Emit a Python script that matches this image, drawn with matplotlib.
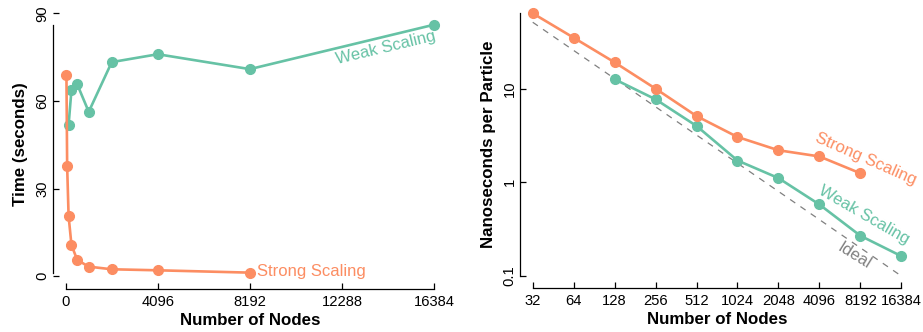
import matplotlib
matplotlib.use("Agg")
import matplotlib.pyplot as plt
import numpy as np

plt.rcParams['font.family'] = ['Liberation Sans', 'DejaVu Sans']

# ---- data ----
weak_nodes = [128, 256, 512, 1024, 2048, 4096, 8192, 16384]
weak_time = [51.8, 63.8, 65.7, 56.3, 73.3, 76.0, 70.9, 86.1]
weak_nspp = [12.6, 7.7, 4.0, 1.71, 1.11, 0.58, 0.269, 0.163]

strong_nodes = [32, 64, 128, 256, 512, 1024, 2048, 4096, 8192]
strong_time = [69.0, 37.7, 20.6, 10.7, 5.6, 3.3, 2.4, 2.05, 1.25]
strong_nspp = [63.8, 35.0, 19.1, 10.0, 5.1, 3.05, 2.2, 1.89, 1.25]

ideal_nodes = [32, 64, 128, 256, 512, 1024, 2048, 4096, 8192, 16384]
ideal_nspp = [51.2, 25.6, 12.8, 6.4, 3.2, 1.6, 0.8, 0.4, 0.2, 0.1]

left_xticks = [0, 4096, 8192, 12288, 16384]
left_yticks = [0, 30, 60, 90]
right_xticks = [32, 64, 128, 256, 512, 1024, 2048, 4096, 8192, 16384]
right_yticks = [0.1, 1, 10]
right_yticklabels = ['0.1', '1', '10']

GREEN = '#66c2a5'
ORANGE = '#fc8d62'
GREY = '#808080'

W, H = 923, 332
fig = plt.figure(figsize=(W / 100, H / 100), dpi=100)

def px_axes(l, t, r, b):
    return fig.add_axes([l / W, 1 - b / H, (r - l) / W, (b - t) / H])

line_kw = dict(lw=1.9, marker='o', ms=7, clip_on=False)

def style(ax):
    for s in ['top', 'right']:
        ax.spines[s].set_visible(False)
    for s in ['left', 'bottom']:
        ax.spines[s].set_linewidth(0.9)
    ax.tick_params(direction='in', length=4.5, width=0.9, labelsize=10.6, pad=4)
    ax.tick_params(axis='y', labelrotation=90, pad=2.5)
    for lab in ax.get_yticklabels():
        lab.set_va('center')

# ---- left panel ----
ax1 = px_axes(52.7, 0, 447, 289)
ax1.plot(weak_nodes, weak_time, color=GREEN, **line_kw)
ax1.plot(strong_nodes, strong_time, color=ORANGE, **line_kw)
ax1.set_xlim(-579, 16963)
ax1.set_ylim(-4.35, 94.56)
ax1.set_xticks(left_xticks)
ax1.set_yticks(left_yticks)
style(ax1)
ax1.spines['left'].set_bounds(min(strong_time + weak_time), max(strong_time + weak_time))
ax1.spines['bottom'].set_bounds(0, max(weak_nodes))
ax1.set_xlabel('Number of Nodes', fontsize=12.2, fontweight='bold', labelpad=3)
ax1.set_ylabel('Time (seconds)', fontsize=12.2, fontweight='bold', labelpad=5)
ax1.text(14260, 78.1, 'Weak Scaling', color=GREEN, fontsize=12, rotation=13.5,
         ha='center', va='center', rotation_mode='anchor')
ax1.text(8500, 1.6, 'Strong Scaling', color=ORANGE, fontsize=12,
         ha='left', va='center')

# ---- right panel ----
ax2 = px_axes(520, 0, 914, 288)
ax2.plot(ideal_nodes, ideal_nspp, color=GREY, lw=0.9, ls=(0, (5, 5)))
ax2.plot(weak_nodes, weak_nspp, color=GREEN, **line_kw)
ax2.plot(strong_nodes, strong_nspp, color=ORANGE, **line_kw)
ax2.set_xscale('log', base=2)
ax2.set_yscale('log')
ax2.set_xlim(25.8, 20320)
ax2.set_ylim(0.0744, 88.5)
ax2.set_xticks(right_xticks)
ax2.set_xticklabels([str(v) for v in right_xticks])
ax2.xaxis.set_minor_locator(matplotlib.ticker.NullLocator())
ax2.set_yticks(right_yticks)
ax2.set_yticklabels(right_yticklabels)
ax2.yaxis.set_minor_locator(matplotlib.ticker.NullLocator())
style(ax2)
ax2.spines['left'].set_bounds(min(ideal_nspp), max(strong_nspp))
ax2.spines['bottom'].set_bounds(min(ideal_nodes), max(ideal_nodes))
ax2.set_xlabel('Number of Nodes', fontsize=12.2, fontweight='bold', labelpad=3)
ax2.set_ylabel('Nanoseconds per Particle', fontsize=12.2, fontweight='bold', labelpad=5)
ax2.text(9008, 1.77, 'Strong Scaling', color=ORANGE, fontsize=12, rotation=-23.7,
         ha='center', va='center', rotation_mode='anchor')
ax2.text(8710, 0.448, 'Weak Scaling', color=GREEN, fontsize=12, rotation=-30,
         ha='center', va='center', rotation_mode='anchor')
ax2.text(7418, 0.163, 'Ideal', color=GREY, fontsize=12, rotation=-32,
         ha='center', va='center', rotation_mode='anchor')

fig.savefig('out.png', dpi=100)
